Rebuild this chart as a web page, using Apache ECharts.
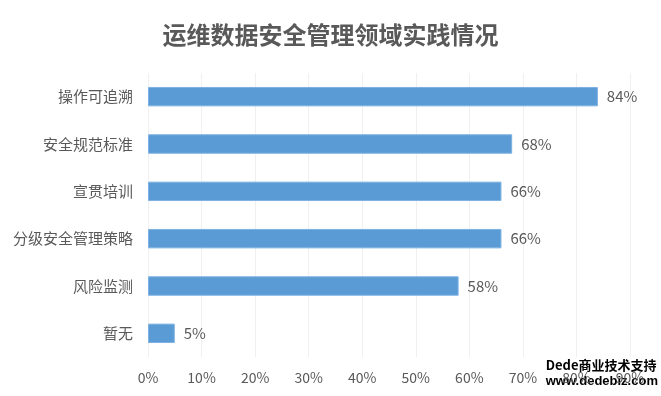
<!DOCTYPE html>
<html><head><meta charset="utf-8">
<script src="https://cdn.jsdelivr.net/npm/echarts@6/dist/echarts.min.js"></script>
<style>html,body{margin:0;padding:0;background:#fff}#c{width:661px;height:396px}</style>
</head><body><div id="c"></div>
<script>
const title = '运维数据安全管理领域实践情况';
const categories = ['操作可追溯','安全规范标准','宣贯培训','分级安全管理策略','风险监测','暂无'];
const values = [84, 68, 66, 66, 58, 5];
const xTicks = [0, 10, 20, 30, 40, 50, 60, 70, 80, 90];
const watermark = ['Dede商业技术支持', 'www.dedebiz.com'];

const font = '"Noto Sans CJK SC", "Microsoft YaHei", sans-serif';
const chart = echarts.init(document.getElementById('c'));
chart.setOption({
  animation: false,
  textStyle: { fontFamily: font },
  title: {
    text: title, left: 'center', top: 18,
    textStyle: { fontSize: 24, fontWeight: 'bold', color: '#595959', fontFamily: font }
  },
  grid: { left: 148, right: 31, top: 73, bottom: 39, containLabel: false },
  xAxis: {
    type: 'value', min: xTicks[0], max: xTicks[xTicks.length - 1], interval: 10,
    axisLine: { show: false }, axisTick: { show: false },
    splitLine: { show: true, lineStyle: { color: '#f0f0f0', width: 1 } },
    axisLabel: { formatter: '{value}%', color: '#595959', fontSize: 14, margin: 14, fontFamily: font }
  },
  yAxis: {
    type: 'category', data: categories, inverse: true,
    axisLine: { show: false }, axisTick: { show: false },
    axisLabel: { color: '#595959', fontSize: 15, margin: 15, fontFamily: font }
  },
  series: [{
    type: 'bar', data: values, barWidth: '41%',
    itemStyle: { color: '#5B9BD5', borderColor: '#7DB2E3', borderWidth: 1 },
    label: { show: true, position: 'right', distance: 9, formatter: '{c}%', color: '#595959', fontSize: 15, fontFamily: font }
  }],
  graphic: [
    { type: 'text', left: 545, top: 358, style: { text: watermark[0], fill: '#000', stroke: '#fff', lineWidth: 1.5, font: 'bold 13px ' + font } },
    { type: 'text', left: 545, top: 374, style: { text: watermark[1], fill: '#000', stroke: '#fff', lineWidth: 1.5, font: 'bold 13px "Liberation Sans", sans-serif' } }
  ]
});
</script></body></html>
